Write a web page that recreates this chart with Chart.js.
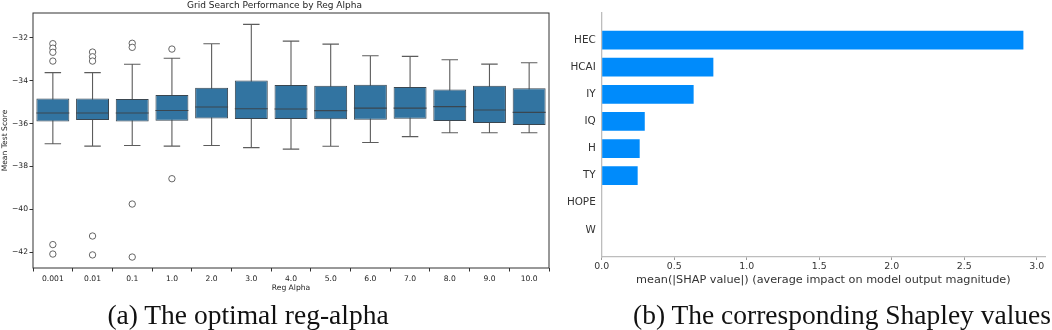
<!DOCTYPE html>
<html>
<head>
<meta charset="utf-8">
<script src="https://cdn.jsdelivr.net/npm/chart.js@4.4.1/dist/chart.umd.min.js"></script>
<style>
  body { margin: 0; background: #fff; width: 1052px; height: 330px; position: relative; overflow: hidden; }
  #boxWrap { position: absolute; left: 0; top: 0; width: 560px; height: 300px; }
  #shapWrap { position: absolute; left: 560px; top: 0; width: 492px; height: 295px; }
  .caption { position: absolute; top: 301px; font-family: "Liberation Serif", serif; font-size: 27.5px; line-height: 27px; color: #111; white-space: nowrap; transform: translateX(-50%); }
</style>
</head>
<body>
<div id="boxWrap"><canvas id="boxChart"></canvas></div>
<div id="shapWrap"><canvas id="shapChart"></canvas></div>
<div class="caption" style="left:248px">(a) The optimal reg-alpha</div>
<div class="caption" style="left:842px">(b) The corresponding Shapley values</div>
<script>
// ---- (a) grid search box plot ----
const alphas = ['0.001', '0.01', '0.1', '1.0', '2.0', '3.0', '4.0', '5.0', '6.0', '7.0', '8.0', '9.0', '10.0'];
const whiskerLow  = [-36.94, -37.05, -37.02, -37.05, -37.02, -37.12, -37.19, -37.06, -36.88, -36.61, -36.43, -36.43, -36.43];
const q1          = [-35.90, -35.84, -35.91, -35.87, -35.76, -35.79, -35.79, -35.80, -35.82, -35.78, -35.88, -35.97, -36.07];
const medians     = [-35.51, -35.51, -35.51, -35.39, -35.23, -35.31, -35.32, -35.40, -35.28, -35.28, -35.21, -35.37, -35.48];
const q3          = [-34.83, -34.83, -34.86, -34.67, -34.33, -34.00, -34.20, -34.24, -34.19, -34.30, -34.41, -34.24, -34.36];
const whiskerHigh = [-33.63, -33.63, -33.24, -32.96, -32.28, -31.38, -32.16, -32.30, -32.84, -32.87, -33.03, -33.23, -33.17];

const outlierAlpha = ['0.001', '0.001', '0.001', '0.001', '0.001', '0.001',
                      '0.01', '0.01', '0.01', '0.01', '0.01',
                      '0.1', '0.1', '0.1', '0.1',
                      '1.0', '1.0'];
const outlierScore = [-32.28, -32.49, -32.68, -33.09, -41.64, -42.08,
                      -32.67, -32.89, -33.09, -41.24, -42.12,
                      -32.26, -32.45, -39.75, -42.22,
                      -32.53, -38.57];

// ---- (b) SHAP bar chart ----
const features = ['HEC', 'HCAI', 'IY', 'IQ', 'H', 'TY', 'HOPE', 'W'];
const shapValues = [2.908, 0.770, 0.634, 0.297, 0.262, 0.248, 0, 0];

const smallFont = { family: 'DejaVu Sans', size: 7.6 };

const boxLines = {
  id: 'boxLines',
  beforeDatasetsDraw(chart) {
    const { ctx, scales: { x, y } } = chart;
    const bars = chart.getDatasetMeta(0).data;
    ctx.save();
    ctx.strokeStyle = '#5c5c5c';
    ctx.lineWidth = 1.1;
    alphas.forEach((a, i) => {
      const px = x.getPixelForValue(i);
      const cap = bars[i].width / 4;
      ctx.beginPath();
      ctx.moveTo(px, y.getPixelForValue(whiskerLow[i]));
      ctx.lineTo(px, y.getPixelForValue(whiskerHigh[i]));
      [whiskerLow[i], whiskerHigh[i]].forEach(v => {
        ctx.moveTo(px - cap, y.getPixelForValue(v));
        ctx.lineTo(px + cap, y.getPixelForValue(v));
      });
      ctx.stroke();
    });
    ctx.restore();
  },
  afterDatasetsDraw(chart) {
    const { ctx, scales: { x, y }, chartArea } = chart;
    const bars = chart.getDatasetMeta(0).data;
    ctx.save();
    ctx.strokeStyle = '#3a4650';
    ctx.lineWidth = 1.1;
    alphas.forEach((a, i) => {
      const px = x.getPixelForValue(i);
      const half = bars[i].width / 2;
      const py = y.getPixelForValue(medians[i]);
      ctx.beginPath();
      ctx.moveTo(px - half, py);
      ctx.lineTo(px + half, py);
      ctx.stroke();
    });
    // matplotlib frame
    ctx.strokeStyle = '#333';
    ctx.lineWidth = 1;
    ctx.strokeRect(chartArea.left, chartArea.top, chartArea.right - chartArea.left, chartArea.bottom - chartArea.top);
    ctx.restore();
  }
};

new Chart(document.getElementById('boxChart'), {
  type: 'bar',
  data: {
    labels: alphas,
    datasets: [{
      data: alphas.map((a, i) => [q1[i], q3[i]]),
      backgroundColor: '#3274a1',
      borderColor: '#3a4650',
      borderWidth: 1,
      borderSkipped: false,
      categoryPercentage: 0.83,
      barPercentage: 1
    }, {
      type: 'line',
      data: outlierAlpha.map((a, i) => ({ x: a, y: outlierScore[i] })),
      showLine: false,
      pointStyle: 'circle',
      pointRadius: 3.2,
      pointBorderWidth: 0.9,
      pointBorderColor: '#555',
      pointBackgroundColor: '#fff'
    }]
  },
  options: {
    responsive: true,
    maintainAspectRatio: false,
    animation: false,
    layout: { padding: { left: 0, right: 11, top: 0, bottom: 0 } },
    plugins: {
      legend: { display: false },
      tooltip: { enabled: false },
      title: {
        display: true,
        text: 'Grid Search Performance by Reg Alpha',
        color: '#222',
        font: { family: 'DejaVu Sans', size: 9, weight: 'normal' },
        padding: { top: 0, bottom: 2.2 }
      }
    },
    scales: {
      x: {
        afterFit: s => { s.height = 32; },
        grid: { display: true, drawOnChartArea: false, tickLength: 3.5, color: '#333' },
        border: { display: false },
        ticks: { color: '#222', font: smallFont, padding: 2.5, maxRotation: 0 },
        title: { display: true, text: 'Reg Alpha', color: '#222', font: smallFont, padding: { top: 0, bottom: 7 } }
      },
      y: {
        min: -42.73,
        max: -30.85,
        afterFit: s => { s.width = 33; },
        afterBuildTicks: s => { s.ticks = [-42, -40, -38, -36, -34, -32].map(v => ({ value: v })); },
        grid: { display: true, drawOnChartArea: false, tickLength: 3.5, color: '#333' },
        border: { display: false },
        ticks: { color: '#222', font: smallFont, padding: 1.5, callback: v => '\u2212' + Math.abs(v) },
        title: { display: true, text: 'Mean Test Score', color: '#222', font: smallFont, padding: 0 }
      }
    }
  },
  plugins: [boxLines]
});

new Chart(document.getElementById('shapChart'), {
  type: 'bar',
  data: {
    datasets: [{
      data: features.map((f, i) => ({ x: shapValues[i], y: i })),
      backgroundColor: '#008bfb',
      borderWidth: 0,
      categoryPercentage: 1,
      barPercentage: 0.69
    }]
  },
  options: {
    indexAxis: 'y',
    responsive: true,
    maintainAspectRatio: false,
    animation: false,
    layout: { padding: { left: 0, right: 7, top: 13, bottom: 0 } },
    plugins: { legend: { display: false }, tooltip: { enabled: false } },
    scales: {
      x: {
        type: 'linear',
        min: 0,
        max: 3.057,
        afterFit: s => { s.height = 38; },
        afterBuildTicks: s => { s.ticks = [0, 0.5, 1, 1.5, 2, 2.5, 3].map(v => ({ value: v })); },
        grid: { display: true, drawOnChartArea: false, tickLength: 3, color: '#999' },
        border: { display: true, color: '#bdbdbd', width: 1.3 },
        ticks: { color: '#333', font: { family: 'DejaVu Sans', size: 9.4 }, padding: 1, callback: v => v.toFixed(1) },
        title: {
          display: true,
          text: 'mean(|SHAP value|) (average impact on model output magnitude)',
          color: '#333',
          font: { family: 'DejaVu Sans', size: 11.25 },
          padding: { top: 0, bottom: 8.4 }
        }
      },
      y: {
        type: 'linear',
        reverse: true,
        offset: false,
        min: -1,
        max: 8,
        afterFit: s => { s.width = 41.7; },
        afterBuildTicks: s => { s.ticks = features.map((f, i) => ({ value: i })); },
        grid: { display: false, drawTicks: false },
        border: { display: true, color: '#bdbdbd', width: 1.3 },
        ticks: { color: '#333', font: { family: 'DejaVu Sans', size: 10.4 }, padding: 6, callback: v => features[v] }
      }
    }
  }
});
</script>
</body>
</html>
